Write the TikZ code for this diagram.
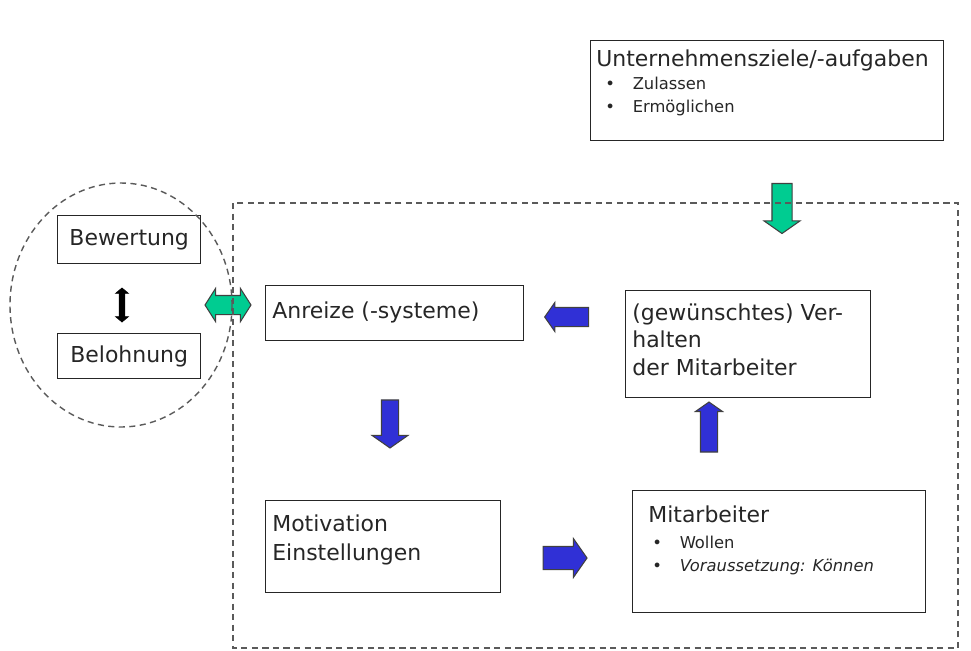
\documentclass[tikz,border=0pt]{standalone}
\usepackage{fontspec}
\setmainfont{DejaVu Sans}
\usetikzlibrary{shapes.arrows,positioning}
\definecolor{pfeilblau}{RGB}{48,48,214}
\definecolor{pfeilgruen}{RGB}{0,204,145}
\definecolor{strich}{RGB}{90,90,90}
\newcommand{\punkt}{\makebox[15pt][l]{\textbullet}}

\begin{document}
\begin{tikzpicture}[x=0.02cm, y=-0.02cm,
    box/.style={draw=black!85, line width=0.8pt, inner sep=0pt, anchor=north west,
      text=black!85, font=\fontsize{12.5}{15}\selectfont},
    txt/.style={anchor=base west, inner sep=0pt, text=black!85, font=\fontsize{12.5}{15}\selectfont},
    klein/.style={txt, font=\fontsize{9.3}{11}\selectfont},
    blockpfeil/.style={single arrow, draw=black!75, line width=0.6pt,
      fill=pfeilblau, single arrow tip angle=110},
    rahmen/.style={draw=strich, line width=0.8pt, dash pattern=on 3.5pt off 2.5pt}]
  \useasboundingbox (0,0) rectangle (971,650);

  % Kaesten
  \node[box, minimum width=7.06cm, minimum height=2.00cm] (ziele) at (590,40) {};
  \node[box, minimum width=2.86cm, minimum height=0.96cm] (bewertung) at (57,215) {};
  \node[box, minimum width=2.86cm, minimum height=0.90cm] (belohnung) at (57,333) {};
  \node[box, minimum width=5.16cm, minimum height=1.10cm] (anreize) at (265,285) {};
  \node[box, minimum width=4.90cm, minimum height=2.14cm] (verhalten) at (625,290) {};
  \node[box, minimum width=4.70cm, minimum height=1.84cm] (motivation) at (265,500) {};
  \node[box, minimum width=5.86cm, minimum height=2.44cm] (mitarbeiter) at (632,490) {};

  % Texte
  \node[txt, anchor=center] (bewertung-t) at (bewertung.center) {Bewertung};
  \node[txt, anchor=center] (belohnung-t) at (belohnung.center) {Belohnung};
  \node[txt] (ziele-t) at (596,66) {Unternehmensziele/-aufgaben};
  \node[klein] (ziele-a) at (605,89) {\punkt\hspace{0.6pt}Zulassen};
  \node[klein] (ziele-b) at (605,112) {\punkt\hspace{0.6pt}Ermöglichen};
  \node[txt] (anreize-t) at (272,318) {Anreize (-systeme)};
  \node[txt] (verhalten-a) at (632,320) {(gewünschtes) Ver-};
  \node[txt] (verhalten-b) at (632,347) {halten};
  \node[txt] (verhalten-c) at (632,375) {der Mitarbeiter};
  \node[txt] (motivation-a) at (272,531) {Motivation};
  \node[txt] (motivation-b) at (272,560) {Einstellungen};
  \node[txt] (mitarbeiter-t) at (648,522) {Mitarbeiter};
  \node[klein] (mitarbeiter-a) at (652,548) {\punkt\hspace{0.6pt}Wollen};
  \node[klein] (mitarbeiter-b) at (652,571) {\punkt\hspace{0.6pt}\textit{Voraussetzung: Können}};

  % Blockpfeile
  \node[blockpfeil, fill=pfeilgruen, shape border rotate=270, inner sep=0.19cm,
    minimum height=1.0cm, minimum width=0.7cm, single arrow head extend=0.16cm] (pfeil-ziele) at (782,205) {};
  \node[blockpfeil, shape border rotate=180, inner sep=0.18cm,
    minimum height=0.88cm, minimum width=0.56cm, single arrow head extend=0.1cm] (pfeil-links) at (570,317) {};
  \node[blockpfeil, shape border rotate=270, inner sep=0.16cm,
    minimum height=0.96cm, minimum width=0.7cm, single arrow head extend=0.19cm] (pfeil-runter) at (390,421) {};
  \node[blockpfeil, shape border rotate=90, inner sep=0.16cm,
    minimum height=1.0cm, minimum width=0.52cm, single arrow head extend=0.1cm] (pfeil-hoch) at (709,430) {};
  \node[blockpfeil, inner sep=0.22cm,
    minimum height=0.88cm, minimum width=0.76cm, single arrow head extend=0.16cm] (pfeil-rechts) at (561,558) {};
  \node[double arrow, draw=black, fill=black, inner sep=0.05cm, shape border rotate=90,
    minimum height=0.68cm, minimum width=0.24cm, double arrow head extend=0.07cm,
    double arrow tip angle=100] (pfeil-bb) at (122,305) {};
  \node[double arrow, draw=black!75, line width=0.6pt, fill=pfeilgruen, inner sep=0.18cm,
    minimum height=0.92cm, minimum width=0.64cm, double arrow head extend=0.14cm,
    double arrow tip angle=115] (pfeil-gruen) at (228,305) {};

  % gestrichelte Rahmen
  \draw[rahmen] (121,305) ellipse [x radius=111, y radius=122];
  \draw[rahmen] (233,203) rectangle (958,648);
\end{tikzpicture}
\end{document}
